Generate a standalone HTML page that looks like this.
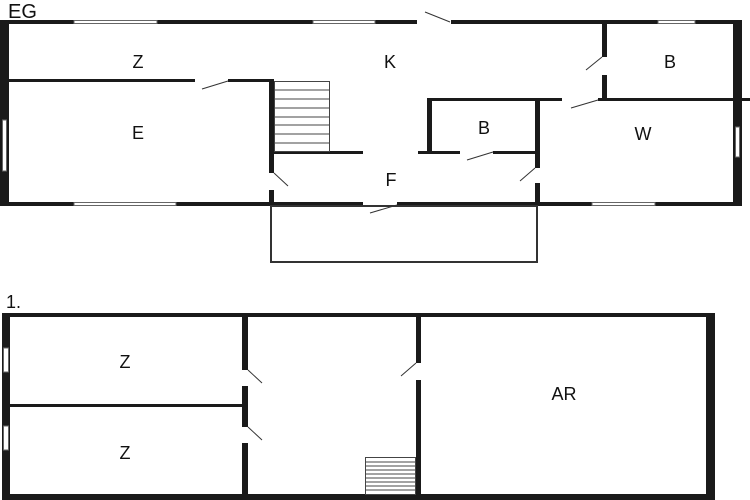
<!DOCTYPE html>
<html><head><meta charset="utf-8"><style>html,body{margin:0;padding:0;background:#fff}svg{display:block}text{font-family:"Liberation Sans",sans-serif;fill:#111}</style></head>
<body>
<svg width="750" height="500" viewBox="0 0 750 500" xmlns="http://www.w3.org/2000/svg">
<rect width="750" height="500" fill="#fff"/>
<g fill="#1a1a1a">
<!-- EG outer -->
<rect x="0" y="20" width="9" height="186"/>
<rect x="733" y="20" width="9" height="186"/>
<rect x="0" y="20" width="74" height="4"/>
<rect x="157" y="20" width="156" height="4"/>
<rect x="375" y="20" width="42" height="4"/>
<rect x="451" y="20" width="207" height="4"/>
<rect x="695" y="20" width="47" height="4"/>
<rect x="0" y="202" width="74" height="4"/>
<rect x="176" y="202" width="187" height="4"/>
<rect x="397" y="202" width="195" height="4"/>
<rect x="655" y="202" width="87" height="4"/>
<!-- interior -->
<rect x="9" y="79" width="186" height="3"/>
<rect x="228" y="79" width="44" height="3"/>
<rect x="269" y="79" width="5" height="94"/>
<rect x="269" y="190" width="5" height="16"/>
<rect x="274" y="151" width="89" height="3"/>
<rect x="427" y="98" width="5" height="54"/>
<rect x="427" y="98" width="135" height="3"/>
<rect x="598" y="98" width="152" height="3"/>
<rect x="418" y="151" width="42" height="3"/>
<rect x="493" y="151" width="44" height="3"/>
<rect x="535" y="99" width="5" height="69"/>
<rect x="535" y="183" width="5" height="23"/>
<rect x="602" y="22" width="5" height="35"/>
<rect x="602" y="75" width="5" height="25"/>
<!-- 1. outer -->
<rect x="2" y="313" width="8" height="187"/>
<rect x="706" y="313" width="9" height="187"/>
<rect x="2" y="313" width="713" height="4"/>
<rect x="2" y="494" width="713" height="6"/>
<rect x="242" y="317" width="6" height="53"/>
<rect x="242" y="386" width="6" height="41"/>
<rect x="242" y="443" width="6" height="52"/>
<rect x="10" y="404" width="232" height="3"/>
<rect x="416" y="317" width="5" height="46"/>
<rect x="416" y="380" width="5" height="115"/>
</g>
<!-- windows -->
<g fill="#fff" stroke="#666" stroke-width="1">
<rect x="74" y="20.5" width="83" height="3"/>
<rect x="313" y="20.5" width="62" height="3"/>
<rect x="658" y="20.5" width="37" height="3"/>
<rect x="74" y="202.5" width="102" height="3"/>
<rect x="592" y="202.5" width="63" height="3"/>
<rect x="2.5" y="120" width="4" height="51"/>
<rect x="735.5" y="127" width="4" height="30"/>
<rect x="3.5" y="348" width="5" height="24"/>
<rect x="3.5" y="426" width="5" height="24"/>
</g>
<!-- door leaves -->
<g stroke="#333" stroke-width="1" fill="none">
<line x1="425" y1="12" x2="450" y2="22"/>
<line x1="202" y1="89" x2="228" y2="81"/>
<line x1="274" y1="173" x2="288" y2="186"/>
<line x1="571" y1="108" x2="598" y2="100"/>
<line x1="467" y1="160" x2="493" y2="152"/>
<line x1="520" y1="181" x2="535" y2="168"/>
<line x1="586" y1="70" x2="602" y2="57"/>
<line x1="370" y1="213" x2="397" y2="205"/>
<line x1="248" y1="370" x2="262" y2="383"/>
<line x1="248" y1="427" x2="262" y2="440"/>
<line x1="416" y1="363" x2="401" y2="376"/>
</g>
<!-- stairs -->
<g stroke="#444" stroke-width="1" fill="none">
<rect x="274.5" y="81.5" width="55" height="70"/>
<line x1="274" y1="90" x2="329" y2="90"/><line x1="274" y1="99" x2="329" y2="99"/>
<line x1="274" y1="108" x2="329" y2="108"/><line x1="274" y1="117" x2="329" y2="117"/>
<line x1="274" y1="125" x2="329" y2="125"/><line x1="274" y1="134" x2="329" y2="134"/>
<line x1="274" y1="143" x2="329" y2="143"/>
<rect x="365.5" y="457.5" width="50" height="37"/>
<line x1="365" y1="462" x2="416" y2="462"/><line x1="365" y1="466" x2="416" y2="466"/>
<line x1="365" y1="470" x2="416" y2="470"/><line x1="365" y1="474" x2="416" y2="474"/>
<line x1="365" y1="478" x2="416" y2="478"/><line x1="365" y1="482" x2="416" y2="482"/>
<line x1="365" y1="486" x2="416" y2="486"/><line x1="365" y1="490" x2="416" y2="490"/>
</g>
<!-- annex -->
<rect x="271" y="206" width="266" height="56" fill="none" stroke="#333" stroke-width="2"/>
<!-- labels -->
<g font-size="18" text-anchor="middle">
<text x="8" y="18" text-anchor="start" font-size="20">EG</text>
<text x="6" y="308" text-anchor="start" font-size="18">1.</text>
<text x="138" y="68">Z</text>
<text x="390" y="68">K</text>
<text x="670" y="68">B</text>
<text x="138" y="139">E</text>
<text x="484" y="134">B</text>
<text x="643" y="140">W</text>
<text x="391" y="186">F</text>
<text x="125" y="368">Z</text>
<text x="125" y="459">Z</text>
<text x="564" y="400">AR</text>
</g>
</svg>
</body></html>
